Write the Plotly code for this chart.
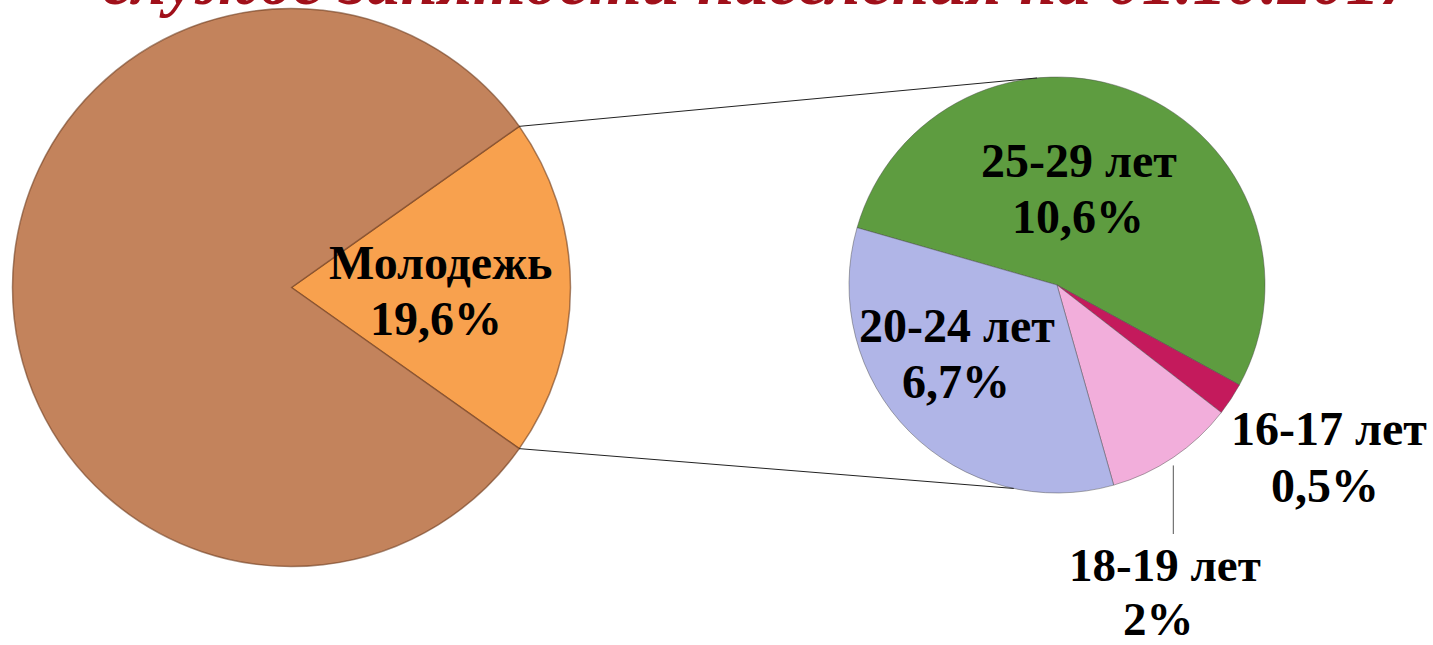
import math
import plotly.graph_objects as go

W, H = 1433, 645

# ---- data ----
main_labels = ["Молодежь", "Остальные"]
main_values = [19.6, 80.4]
main_text = ["19,6%", ""]

age_labels = ["25-29 лет", "16-17 лет", "18-19 лет", "20-24 лет"]
age_values = [10.6, 0.5, 2.0, 6.7]
age_text = ["10,6%", "0,5%", "2%", "6,7%"]

title_text = "службе занятости населения на 01.10.2017"

# ---- styles ----
main_colors = ["#F8A14E", "#C3835C"]
age_colors = ["#5E9C40", "#C41A5C", "#F2AEDB", "#B0B5E7"]
SERIF = "Liberation Serif, Times New Roman, serif"

# ---- geometry (pixels) ----
L_CX, L_CY, L_R, L_PULL = 291.5, 287.5, 279.0, 0.0
L_HALF = L_R * (1 + L_PULL)
R_CX, R_CY, R_R = 1057.0, 285.0, 208.0
R_HALF = R_R


def dom(cx, cy, half):
    return dict(x=[max(0, (cx - half) / W), min(1, (cx + half) / W)],
                y=[max(0, 1 - (cy + half) / H), min(1, 1 - (cy - half) / H)])


def px(x, y):
    return x / W, 1 - y / H


# left pie: first slice centred at 3 o'clock
young_span = 360 * main_values[0] / sum(main_values)
left_rotation = 90 - young_span / 2
# right pie rotation
right_rotation = -74.0

fig = go.Figure()
fig.add_trace(go.Pie(
    labels=main_labels, values=main_values, sort=False, direction="clockwise",
    rotation=left_rotation, pull=[L_PULL, 0], textinfo="none", hoverinfo="label+value",
    marker=dict(colors=main_colors, line=dict(color="rgba(110,60,30,0.6)", width=1.5)),
    domain=dom(L_CX, L_CY, L_HALF), showlegend=False,
))
fig.add_trace(go.Pie(
    labels=age_labels, values=age_values, sort=False, direction="clockwise",
    rotation=right_rotation, textinfo="none", hoverinfo="label+value",
    marker=dict(colors=age_colors, line=dict(color="rgba(70,70,70,0.45)", width=1)),
    domain=dom(R_CX, R_CY, R_HALF), showlegend=False,
))

shapes = []
# connector lines from the wedge edges to the right pie
pcx = L_CX + L_PULL * L_R
for sgn, ang_r in [(1, 95.5), (-1, -102.0)]:
    a = math.radians(sgn * young_span / 2)
    x0, y0 = pcx + L_R * math.cos(a), L_CY - L_R * math.sin(a)
    b = math.radians(ang_r)
    x1, y1 = R_CX + R_R * math.cos(b), R_CY - R_R * math.sin(b)
    X0, Y0 = px(x0, y0)
    X1, Y1 = px(x1, y1)
    shapes.append(dict(type="line", xref="paper", yref="paper", x0=X0, y0=Y0, x1=X1, y1=Y1,
                       line=dict(color="#222222", width=1)))

# leader line for 18-19
cum = sum(age_values[:2])
pink_mid = right_rotation + 360 * (cum + age_values[2] / 2) / sum(age_values)
pm = math.radians(90 - pink_mid)
lx = R_CX + R_R * math.cos(pm)
ly = R_CY - R_R * math.sin(pm)
X0, Y0 = px(lx, ly + 8)
X1, Y1 = px(lx, 534)
shapes.append(dict(type="line", xref="paper", yref="paper", x0=X0, y0=Y0, x1=X0, y1=Y1,
                   line=dict(color="#555555", width=1)))

annotations = []


def lab(text, x, y, size=48):
    X, Y = px(x, y)
    annotations.append(dict(text="<b>" + text + "</b>", x=X, y=Y, xref="paper", yref="paper",
                            xanchor="center", yanchor="middle", showarrow=False,
                            font=dict(family=SERIF, size=size, color="black")))


lab(main_labels[0], 440, 262)
lab(main_text[0], 436, 318)
lab(age_labels[0], 1079, 160)
lab(age_text[0], 1078, 216)
lab(age_labels[3], 957, 325)
lab(age_text[3], 956, 381)
lab(age_labels[1], 1329, 428)
lab(age_text[1], 1325, 485)
lab(age_labels[2], 1165, 565, size=47)
lab(age_text[2], 1158, 619, size=47)

# title (mostly cut off at the top of the page)
annotations.append(dict(text="<b><i>" + title_text + "</i></b>", x=759 / W, y=1 - 21 / H,
                        xref="paper", yref="paper", xanchor="center", yanchor="bottom",
                        showarrow=False, font=dict(family=SERIF, size=68, color="#A0101A")))

fig.update_layout(
    width=W, height=H, margin=dict(l=0, r=0, t=0, b=0),
    paper_bgcolor="white", plot_bgcolor="white",
    shapes=shapes, annotations=annotations,
)
fig.write_html("out.html", config={"displayModeBar": False},
               post_script="document.body.style.margin='0';")
